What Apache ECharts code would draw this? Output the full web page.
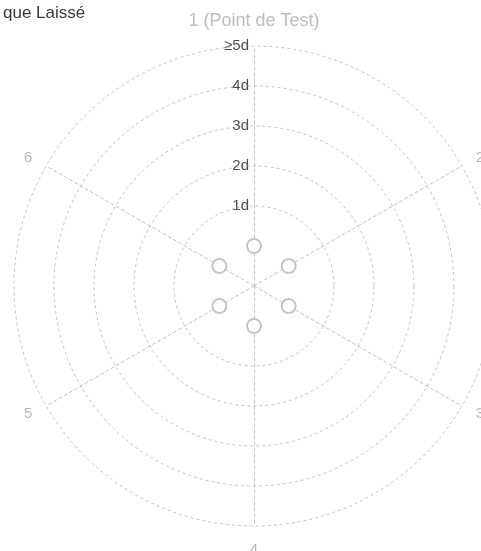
<!DOCTYPE html>
<html>
<head>
<meta charset="utf-8">
<style>
  html, body { margin: 0; padding: 0; background: #fff; }
  #chart { width: 481px; height: 551px; }
</style>
<script src="https://cdn.jsdelivr.net/npm/echarts@6/dist/echarts.min.js"></script>
</head>
<body>
<div id="chart"></div>
<script>
// Axes of the radar, listed clockwise from the top
const axisNames = ['1 (Point de Test)', '2', '3', '4', '5', '6'];
// Days of risk left open at each point, same order as axisNames
const daysLeft = [0, 0, 0, 0, 0, 0];
// Ring labels, keyed by the day value of the ring
const ringLabels = { 1: '1d', 2: '2d', 3: '3d', 4: '4d', 5: '≥5d' };
const titleText = 'que Laissé';

// ECharts lays radar axes counter-clockwise, so keep the first axis on top and reverse the rest
function clockwise(arr) { return [arr[0]].concat(arr.slice(1).reverse()); }

const chart = echarts.init(document.getElementById('chart'), null, { renderer: 'canvas' });

const ringColor = '#c4c4c4';
const fontFamily = 'Liberation Sans, Arial, sans-serif';
chart.setOption({
  animation: false,
  backgroundColor: '#ffffff',
  title: {
    text: titleText,
    left: -2,
    top: 0,
    textStyle: { fontFamily: fontFamily, fontSize: 17, fontWeight: 'normal', color: '#3a3a3a' }
  },
  radar: {
    center: [254, 286],
    radius: 240,
    shape: 'circle',
    startAngle: 90,
    splitNumber: 6,
    indicator: clockwise(axisNames).map(function (n) { return { name: n, min: -1, max: 5 }; }),
    axisName: {
      color: '#b8b8b8',
      fontFamily: fontFamily,
      fontSize: 15,
      formatter: function (name) {
        return name.length > 1 ? '{main|' + name + '}' : name;
      },
      rich: {
        main: { fontFamily: fontFamily, fontSize: 18, color: '#bdbdbd' }
      }
    },
    nameGap: 16,
    axisLine: { lineStyle: { color: ringColor, type: [3, 3], width: 1 } },
    splitLine: {
      lineStyle: {
        color: [ringColor, 'rgba(0,0,0,0)', ringColor, ringColor, ringColor, ringColor, ringColor],
        type: [3, 3],
        width: 1
      }
    },
    splitArea: { show: false },
    axisTick: { show: false },
    axisLabel: { show: false }
  },
  series: [{
    type: 'radar',
    symbol: 'emptyCircle',
    symbolSize: 14,
    itemStyle: { color: '#c6c6c6', borderWidth: 1 },
    lineStyle: { width: 0, opacity: 0 },
    data: [{ value: clockwise(daysLeft) }]
  }]
});

// Ring value labels along the upward axis, placed through the radar's own coordinate mapping
const radarCoord = chart.getModel().getComponent('radar').coordinateSystem;
const labelGraphics = Object.keys(ringLabels).map(function (k) {
  const p = radarCoord.dataToPoint(Number(k), 0);
  return {
    type: 'text',
    x: p[0] - 5,
    y: p[1],
    style: {
      text: ringLabels[k],
      align: 'right',
      verticalAlign: 'middle',
      fill: '#505050',
      font: '15px "Liberation Sans", Arial, sans-serif'
    }
  };
});
chart.setOption({ graphic: labelGraphics });
</script>
</body>
</html>
